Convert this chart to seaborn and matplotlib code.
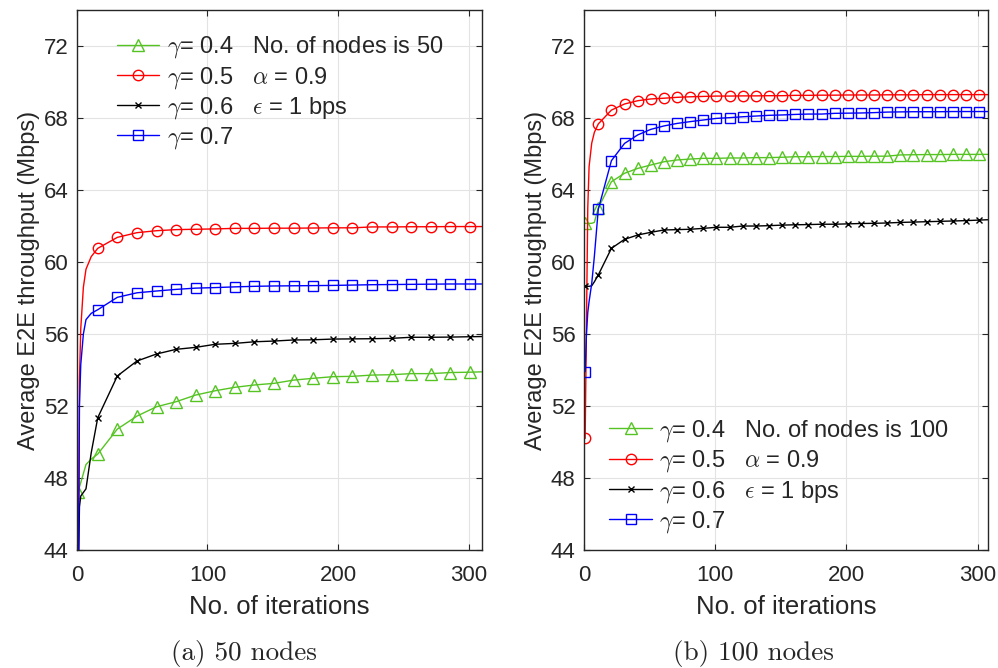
import pandas as pd
import matplotlib
matplotlib.use("Agg")
import matplotlib.pyplot as plt
import seaborn as sns

# data: panel (a) 50 nodes
iters_a = [1, 2, 3, 5, 7, 11, 16, 31, 46, 61, 76, 91, 106, 121, 136, 151, 166,
           181, 196, 211, 226, 241, 256, 271, 286, 301, 310]
g04_a = [47.24, 47.5, 47.75, 48.25, 48.75, 49.05, 49.33, 50.72, 51.44, 51.96, 52.24,
         52.61, 52.85, 53.04, 53.17, 53.26, 53.44, 53.54, 53.63, 53.65, 53.72, 53.74,
         53.8, 53.8, 53.86, 53.88, 53.9]
g05_a = [40.0, 53.5, 56.3, 58.6, 59.6, 60.3, 60.76, 61.37, 61.63, 61.74, 61.8, 61.82,
         61.84, 61.87, 61.87, 61.88, 61.88, 61.89, 61.9, 61.9, 61.95, 61.95, 61.96,
         61.96, 61.97, 61.97, 61.97]
g06_a = [42.0, 46.4, 47.0, 47.2, 47.4, 49.4, 51.35, 53.67, 54.5, 54.89, 55.15, 55.26,
         55.43, 55.48, 55.57, 55.61, 55.67, 55.68, 55.72, 55.73, 55.74, 55.76, 55.82,
         55.82, 55.83, 55.85, 55.86]
g07_a = [40.0, 52.0, 54.3, 56.0, 56.8, 57.15, 57.35, 58.04, 58.29, 58.39, 58.48, 58.55,
         58.58, 58.62, 58.65, 58.67, 58.68, 58.69, 58.7, 58.72, 58.74, 58.75, 58.76,
         58.77, 58.78, 58.78, 58.78]
marks_a = [0, 6, 7, 8, 9, 10, 11, 12, 13, 14, 15, 16, 17, 18, 19, 20, 21, 22, 23, 24, 25]

# data: panel (b) 100 nodes
iters_b = [1, 2, 3, 4, 6, 8, 11, 21, 31, 41, 51, 61, 71, 81, 91, 101, 111, 121, 131,
           141, 151, 161, 171, 181, 191, 201, 211, 221, 231, 241, 251, 261, 271, 281,
           291, 301, 308]
g04_b = [62.15, 62.15, 62.15, 62.15, 62.15, 62.2, 63.0, 64.46, 64.93, 65.2, 65.39,
         65.57, 65.67, 65.72, 65.76, 65.76, 65.78, 65.78, 65.8, 65.8, 65.82, 65.85,
         65.85, 65.86, 65.86, 65.87, 65.87, 65.88, 65.88, 65.95, 65.96, 65.97, 65.97,
         65.98, 65.98, 65.98, 65.98]
g05_b = [50.2, 56.5, 63.0, 65.3, 66.6, 67.2, 67.67, 68.44, 68.78, 68.96, 69.06, 69.1,
         69.15, 69.18, 69.2, 69.22, 69.22, 69.23, 69.23, 69.24, 69.24, 69.26, 69.26,
         69.27, 69.27, 69.28, 69.28, 69.28, 69.29, 69.29, 69.29, 69.3, 69.3, 69.3,
         69.3, 69.3, 69.3]
g06_b = [58.65, 58.65, 58.65, 58.65, 58.68, 58.9, 59.28, 60.76, 61.26, 61.5, 61.65,
         61.78, 61.8, 61.82, 61.87, 61.93, 61.93, 62.0, 62.0, 62.02, 62.05, 62.07,
         62.08, 62.1, 62.1, 62.12, 62.14, 62.15, 62.17, 62.2, 62.22, 62.24, 62.26,
         62.28, 62.3, 62.33, 62.35]
g07_b = [53.9, 56.0, 57.2, 57.8, 58.8, 60.3, 62.93, 65.63, 66.59, 67.06, 67.37, 67.56,
         67.7, 67.8, 67.89, 67.98, 68.02, 68.07, 68.11, 68.15, 68.17, 68.2, 68.22,
         68.22, 68.26, 68.27, 68.28, 68.3, 68.33, 68.34, 68.35, 68.35, 68.35, 68.36,
         68.36, 68.36, 68.36]
marks_b = [0] + [i for i in range(6, 36)]

labels_a = [r"$\gamma$= 0.4   No. of nodes is 50", r"$\gamma$= 0.5   $\alpha$ = 0.9",
            r"$\gamma$= 0.6   $\epsilon$ = 1 bps", r"$\gamma$= 0.7"]
labels_b = [r"$\gamma$= 0.4   No. of nodes is 100", r"$\gamma$= 0.5   $\alpha$ = 0.9",
            r"$\gamma$= 0.6   $\epsilon$ = 1 bps", r"$\gamma$= 0.7"]
colors = ["#55c423", "#ff0000", "#000000", "#0000ff"]
markers = ["^", "o", "x", "s"]
msizes = [8, 7.5, 5, 6.5]
yticks = [44, 48, 52, 56, 60, 64, 68, 72]
xticks = [0, 100, 200, 300]

sns.set_theme(style="whitegrid")
plt.rcParams['font.family'] = ['Liberation Sans', 'DejaVu Sans']
plt.rcParams['mathtext.fontset'] = 'cm'

fig = plt.figure(figsize=(9.98, 6.68), dpi=100)
ax1 = fig.add_axes([0.077, 0.1766, 0.4057, 0.8084])
ax2 = fig.add_axes([0.585, 0.1766, 0.4053, 0.8084])


def draw_panel(ax, iters, series, labels, marks, xmax):
    for vals, lab, c, m, ms in zip(series, labels, colors, markers, msizes):
        df = pd.DataFrame({"iter": iters, "thr": vals})
        sns.lineplot(data=df, x="iter", y="thr", ax=ax, color=c, label=lab,
                     estimator=None, sort=False, linewidth=1.0,
                     marker=m, markersize=ms, markevery=marks,
                     markerfacecolor="none", markeredgecolor=c, markeredgewidth=1.0)
    ax.set_xlim(0, xmax)
    ax.set_ylim(44, 74)
    ax.set_xticks(xticks)
    ax.set_yticks(yticks)
    ax.grid(True, color="#e3e3e3", linewidth=0.8)
    ax.set_facecolor("white")
    for sp in ax.spines.values():
        sp.set_visible(True)
        sp.set_color("#262626")
        sp.set_linewidth(1.0)
    ax.tick_params(direction="in", length=4, width=0.8, colors="#262626",
                   top=True, right=True, bottom=True, left=True, labelsize=16)
    ax.tick_params(axis="x", pad=11)
    ax.tick_params(axis="y", pad=6)
    ax.set_xlabel("No. of iterations", fontsize=18.5, color="#262626", labelpad=6)
    ax.set_ylabel("Average E2E throughput (Mbps)", fontsize=17, color="#262626",
                  labelpad=3)


draw_panel(ax1, iters_a, [g04_a, g05_a, g06_a, g07_a], labels_a, marks_a, 310)
draw_panel(ax2, iters_b, [g04_b, g05_b, g06_b, g07_b], labels_b, marks_b, 308)

leg_kw = dict(frameon=False, fontsize=17, handlelength=1.8, handletextpad=0.3,
              labelspacing=0.18, borderpad=0, borderaxespad=0)
ax1.legend(loc="upper left", bbox_to_anchor=(0.099, 0.955), **leg_kw)
ax2.legend(loc="lower left", bbox_to_anchor=(0.063, 0.028), **leg_kw)

fig.text(0.2445, 0.022, "(a) 50 nodes", ha="center", va="center",
         fontsize=19.5, family="cmr10")
fig.text(0.7545, 0.022, "(b) 100 nodes", ha="center", va="center",
         fontsize=19.5, family="cmr10")

fig.savefig("out.png", dpi=100)
